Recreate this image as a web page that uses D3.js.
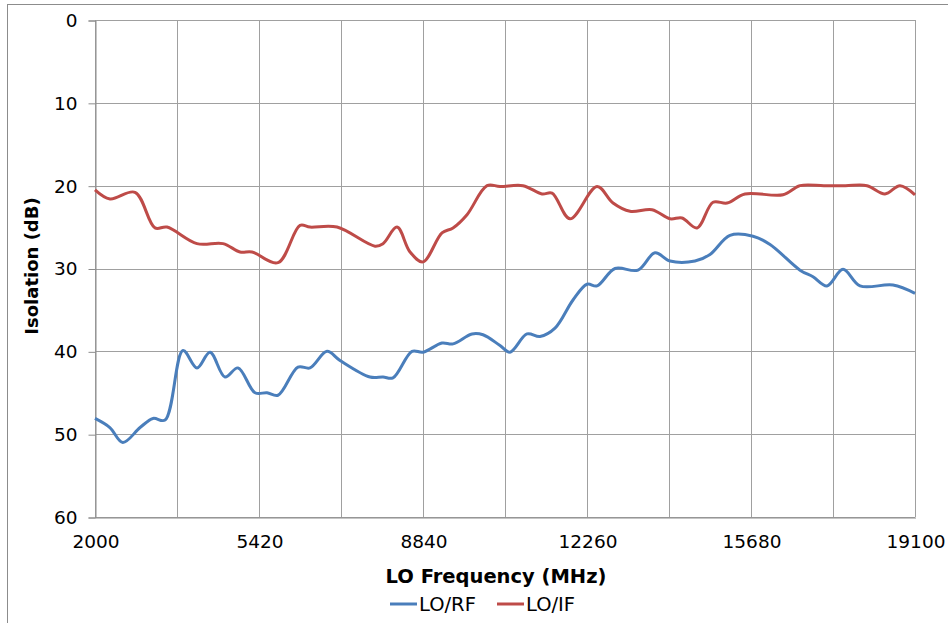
<!DOCTYPE html>
<html>
<head>
<meta charset="utf-8">
<script src="https://cdnjs.cloudflare.com/ajax/libs/d3/7.8.5/d3.min.js"></script>
<style>
  body { margin: 0; background: #fff; }
  svg { display: block; }
</style>
</head>
<body>
<svg width="948" height="623"></svg>
<script>
var margin = {top: 20, right: 33, bottom: 106, left: 95};

// LO/RF isolation (dB) vs LO frequency (MHz)
var rfFreq = [2000, 2310, 2580, 2940, 3210, 3460, 3835, 4127, 4398, 4711, 4982, 5337, 5587, 5816,
  6233, 6484, 6838, 7109, 7735, 8006, 8214, 8611, 8840, 9236, 9466, 9862, 10091, 10446, 10654,
  11009, 11280, 11593, 11968, 12260, 12469, 12844, 13324, 13678, 13991, 14512, 14825, 15242,
  15722, 16077, 16702, 16973, 17265, 17599, 17953, 18641, 19100];
var rfIso = [48.1, 49.2, 51.0, 49.2, 48.1, 48.3, 39.9, 42.0, 40.1, 43.1, 42.0, 45.0, 45.0, 45.3,
  41.9, 42.0, 40.0, 41.1, 43.1, 43.1, 43.2, 40.0, 40.1, 39.0, 39.1, 37.9, 38.0, 39.3, 40.1,
  37.9, 38.2, 37.2, 33.8, 31.9, 32.1, 30.0, 30.2, 28.1, 29.1, 29.1, 28.3, 26.0,
  26.1, 27.1, 30.2, 31.0, 32.1, 30.1, 32.1, 32.0, 33.0];

// LO/IF isolation (dB) vs LO frequency (MHz)
var ifFreq = [2000, 2313, 2834, 3251, 3501, 4127, 4669, 5024, 5274, 5816, 6275, 6484, 7047, 7839,
  8006, 8298, 8569, 8840, 9236, 9466, 9758, 10175, 10446, 10926, 11322, 11531, 11906, 12469,
  12803, 13157, 13616, 13991, 14241, 14554, 14888, 15180, 15555, 16348, 16702, 17200, 17650,
  18099, 18474, 18787, 19100];
var ifIso = [20.5, 21.6, 20.8, 25.1, 25.0, 27.0, 27.0, 28.0, 28.0, 29.3, 24.8, 25.0, 25.0, 27.3,
  27.0, 25.0, 28.0, 29.2, 25.7, 25.1, 23.5, 20.0, 20.1, 20.0, 21.0, 20.9, 24.0, 20.1,
  22.1, 23.1, 22.9, 24.0, 23.9, 25.1, 22.0, 22.1, 21.0, 21.1, 20.0, 20.0, 20.0,
  20.0, 21.0, 20.0, 21.1];

var xTicks = [2000, 5420, 8840, 12260, 15680, 19100];
var yTicks = [0, 10, 20, 30, 40, 50, 60];
var seriesNames = ["LO/RF", "LO/IF"];
var seriesColors = ["#4a7ebb", "#be4b48"];

var svg = d3.select("svg");
var width = +svg.attr("width") - margin.left - margin.right;
var height = +svg.attr("height") - margin.top - margin.bottom;
var font = "DejaVu Sans, Verdana, sans-serif";

// chart frame
svg.append("rect")
  .attr("x", 7.5).attr("y", 4.5)
  .attr("width", 960).attr("height", 640)
  .attr("fill", "none")
  .attr("stroke", "#8c8c8c");

var g = svg.append("g").attr("transform", `translate(${margin.left}, ${margin.top})`);

var xScale = d3.scaleLinear().domain([2000, 19100]).range([0, width]);
var yScale = d3.scaleLinear().domain([0, 60]).range([0, height]);

// grid lines
var vGrid = d3.range(2000, 19101, 1710);
g.append("g")
  .selectAll("line")
  .data(vGrid)
  .join("line")
  .attr("x1", d => Math.round(xScale(d)) + 0.5)
  .attr("x2", d => Math.round(xScale(d)) + 0.5)
  .attr("y1", 0).attr("y2", height)
  .attr("stroke", "#a0a0a0");
g.append("g")
  .selectAll("line")
  .data(yTicks)
  .join("line")
  .attr("x1", 0).attr("x2", width)
  .attr("y1", d => Math.round(yScale(d)) + 0.5)
  .attr("y2", d => Math.round(yScale(d)) + 0.5)
  .attr("stroke", "#a0a0a0");

// axes
var yAxis = g.append("g")
  .attr("transform", "translate(0.5,0.5)")
  .call(d3.axisLeft(yScale).tickValues(yTicks).tickSize(7).tickPadding(11));
yAxis.selectAll("line, path").attr("stroke", "#8c8c8c");
yAxis.selectAll("text")
  .attr("font-family", font)
  .attr("font-size", "18.5px")
  .attr("fill", "#000");

var xAxis = g.append("g")
  .attr("transform", `translate(0.5, ${height + 0.5})`)
  .call(d3.axisBottom(xScale).tickValues(xTicks).tickFormat(d3.format("d")).tickSize(0).tickPadding(17));
xAxis.selectAll("path").attr("stroke", "#8c8c8c");
xAxis.selectAll("text")
  .attr("font-family", font)
  .attr("font-size", "18.5px")
  .attr("fill", "#000");

// axis titles
svg.append("text")
  .attr("x", 496).attr("y", 583)
  .attr("text-anchor", "middle")
  .attr("font-family", font)
  .attr("font-weight", "bold")
  .attr("font-size", "19.5px")
  .text("LO Frequency (MHz)");

svg.append("text")
  .attr("transform", "translate(38, 266) rotate(-90)")
  .attr("text-anchor", "middle")
  .attr("font-family", font)
  .attr("font-weight", "bold")
  .attr("font-size", "18px")
  .text("Isolation (dB)");

// lines
var line = d3.line()
  .x(d => xScale(d[0]))
  .y(d => yScale(d[1]))
  .curve(d3.curveCatmullRom.alpha(0.5));

var rfData = rfFreq.map((f, i) => [f, rfIso[i]]);
var ifData = ifFreq.map((f, i) => [f, ifIso[i]]);

g.append("path")
  .datum(rfData)
  .attr("fill", "none")
  .attr("stroke", seriesColors[0])
  .attr("stroke-width", 3)
  .attr("stroke-linejoin", "round")
  .attr("d", line);

g.append("path")
  .datum(ifData)
  .attr("fill", "none")
  .attr("stroke", seriesColors[1])
  .attr("stroke-width", 3)
  .attr("stroke-linejoin", "round")
  .attr("d", line);

// legend
var legendX = [390, 497];
var legend = svg.append("g");
seriesNames.forEach(function(name, i){
  legend.append("line")
    .attr("x1", legendX[i]).attr("x2", legendX[i] + 27)
    .attr("y1", 604).attr("y2", 604)
    .attr("stroke", seriesColors[i])
    .attr("stroke-width", 3);
  legend.append("text")
    .attr("x", legendX[i] + 29).attr("y", 611)
    .attr("font-family", font)
    .attr("font-size", "19.5px")
    .text(name);
});
</script>
</body>
</html>
